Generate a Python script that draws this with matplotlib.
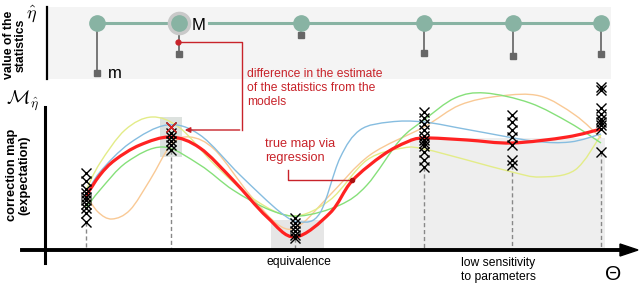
import numpy as np
import matplotlib
matplotlib.use("Agg")
import matplotlib.pyplot as plt
from matplotlib.path import Path
from matplotlib.patches import PathPatch, Rectangle, Polygon

plt.rcParams['font.family'] = ['Liberation Sans', 'DejaVu Sans']
plt.rcParams['mathtext.fontset'] = 'cm'

# --- data (pixel space of the 640x285 schematic, y grows downward) ---
node_x = [97, 179, 301, 424, 513, 601]
node_y = 23
stat_y = [73, 54, 35, 53, 56, 54]           # estimated statistic of each model

sample_x = [86, 171, 295, 424, 512, 601]
samples = [
    [173, 181, 189, 193, 197, 200, 204, 208, 213, 222],
    [127, 133, 137, 141, 145, 150],
    [218, 223, 227, 231, 235, 238],
    [112, 118, 124, 130, 136, 140, 143, 146, 152, 160, 167],
    [115, 122, 130, 137, 145, 160, 165],
    [87, 90, 108, 114, 119, 122, 125, 129, 152],
]

true_map = [(86, 196), (100, 175), (115, 160), (140, 145), (171, 137), (200, 148),
            (233, 180), (267, 217), (295, 237), (330, 213), (352, 181), (383, 155),
            (407, 142), (424, 138), (467, 140), (512, 143), (567, 137), (601, 129)]
model_blue = [(86, 195), (100, 172), (130, 143), (167, 125), (200, 135), (240, 175),
              (280, 212), (300, 222), (320, 213), (340, 158), (360, 130), (390, 122),
              (424, 122), (470, 130), (533, 141), (570, 142), (601, 134)]
model_yellow = [(86, 190), (100, 163), (125, 130), (152, 117), (180, 128), (215, 165),
                (255, 200), (293, 216), (330, 200), (367, 160), (403, 148), (424, 149),
                (467, 160), (512, 172), (540, 177), (575, 170), (601, 135)]
model_green = [(86, 208), (100, 190), (127, 162), (163, 147), (200, 165), (233, 190),
               (270, 210), (300, 216), (340, 205), (367, 185), (400, 140), (424, 120),
               (455, 98), (485, 93), (530, 103), (570, 123), (601, 143)]
model_orange = [(86, 195), (98, 212), (112, 219), (130, 210), (150, 180), (171, 145),
                (190, 137), (215, 150), (250, 195), (280, 226), (300, 225), (330, 195),
                (370, 155), (424, 127), (460, 105), (500, 96), (540, 96), (575, 115),
                (601, 138)]


def smooth_path(pts):
    # catmull-rom through the knots, handed to matplotlib as cubic beziers
    pts = np.array(pts, float)
    p = np.vstack([pts[0], pts, pts[-1]])
    verts = [pts[0]]
    codes = [Path.MOVETO]
    for i in range(1, len(p) - 2):
        c1 = p[i] + (p[i + 1] - p[i - 1]) / 6
        c2 = p[i + 1] - (p[i + 2] - p[i]) / 6
        verts += [c1, c2, p[i + 1]]
        codes += [Path.CURVE4] * 3
    return Path(verts, codes)


fig = plt.figure(figsize=(6.4, 2.85), dpi=100)
ax = fig.add_axes([0, 0, 1, 1])
ax.set_xlim(0, 640)
ax.set_ylim(285, 0)
ax.axis("off")

red = "#c8232a"

# --- top panel ---
ax.add_patch(Rectangle((47, 7), 564, 72, facecolor="#f4f4f4", edgecolor="none", zorder=0))
ax.plot([47, 47], [7, 79], color="black", lw=1.6)
ax.plot([node_x[0], node_x[1]], [node_y, node_y], color="#88b3a3", lw=2.2, zorder=2)
ax.plot([209, node_x[-1]], [node_y, node_y], color="#88b3a3", lw=2.2, zorder=2)
for x, y in zip(node_x, stat_y):
    ax.plot([x, x], [node_y, y], color="#555555", lw=1.1, zorder=2)
    ax.plot(x, y, marker="s", ms=5, color="#666666", zorder=3)
ax.plot(node_x[1], node_y, marker="o", ms=16, color="#c9c9c9", zorder=3)
ax.plot(node_x, [node_y] * len(node_x), "o", ms=11, color="#88b3a3", zorder=4)
ax.text(192, 25, "M", fontsize=12, va="center", ha="left", zorder=5)
ax.text(108, 74, "m", fontsize=12, va="center", ha="left", zorder=5)
ax.text(31, 14, r"$\hat{\eta}$", fontsize=13, va="center", ha="center")
ax.text(15, 45, "value of the\nstatistics", rotation=90, fontsize=8.8, fontweight="bold",
        ha="center", va="center", linespacing=1.0)

# difference annotation
ax.plot([178, 242, 242], [42, 42, 130], color=red, lw=1.0, zorder=5)
ax.plot(178, 42, "o", ms=3.5, color=red, zorder=6)
ax.annotate("", xy=(182, 130), xytext=(242.5, 130),
            arrowprops=dict(arrowstyle="-|>", color=red, lw=1.0, mutation_scale=8), zorder=6)
ax.text(247, 88, "difference in the estimate\nof the statistics from the\nmodels", color=red,
        fontsize=8.7, va="center", ha="left", linespacing=1.2)

# --- bottom panel ---
ax.add_patch(Rectangle((160, 117), 22, 40, facecolor="#dde2df", edgecolor="none", zorder=0))
ax.add_patch(Rectangle((271, 220), 53, 30, facecolor="#e6e6e6", edgecolor="none", zorder=0))
ax.add_patch(Rectangle((410, 138), 195, 112, facecolor="#eeeeee", edgecolor="none", zorder=0))

for pts, col in [(model_orange, "#f9c995"), (model_yellow, "#e3ec88"),
                 (model_green, "#86e07a"), (model_blue, "#86bde0")]:
    ax.add_patch(PathPatch(smooth_path(pts), facecolor="none", edgecolor=col, lw=1.0, zorder=2))
ax.add_patch(PathPatch(smooth_path(true_map), facecolor="none", edgecolor="#ff2222", lw=2.3, zorder=3))

for x, ys in zip(sample_x, samples):
    ax.plot([x, x], [max(ys), 250], color="#888888", lw=1.0, ls=(0, (3, 2)), zorder=1)
    ax.plot([x] * len(ys), ys, "x", ms=6.5, mew=1.0, color="black", zorder=4)
ax.plot(sample_x[1], samples[1][0], "x", ms=6.5, mew=1.0, color="#e02020", zorder=5)

# axes
ax.plot([45, 45], [107, 263], color="black", lw=2.2, zorder=5)
ax.plot([22, 624], [250, 250], color="black", lw=2.8, zorder=5)
ax.add_patch(Polygon([[620, 244], [638, 250], [620, 256]], closed=True, color="black", zorder=5))

ax.text(22, 101, r"$\mathcal{M}_{\hat{\eta}}$", fontsize=14, va="center", ha="center")
ax.text(18, 175, "correction map\n(expectation)", rotation=90, fontsize=9.2, fontweight="bold",
        ha="center", va="center", linespacing=1.0)

# regression annotation
ax.text(265, 151, "true map via\nregression", color=red, fontsize=9.2, va="center", ha="left",
        linespacing=1.2)
ax.plot([288, 288, 352], [170, 180, 180], color=red, lw=1.0, zorder=5)
ax.plot(352, 180, "o", ms=3, color="#aa1111", zorder=6)

ax.text(299, 262, "equivalence", fontsize=8.7, ha="center", va="center")
ax.text(461, 270, "low sensitivity\nto parameters", fontsize=8.7, ha="left", va="center",
        linespacing=1.2)
ax.text(613, 275, "Θ", fontsize=15, ha="center", va="center")

fig.savefig("out.png", dpi=100)
